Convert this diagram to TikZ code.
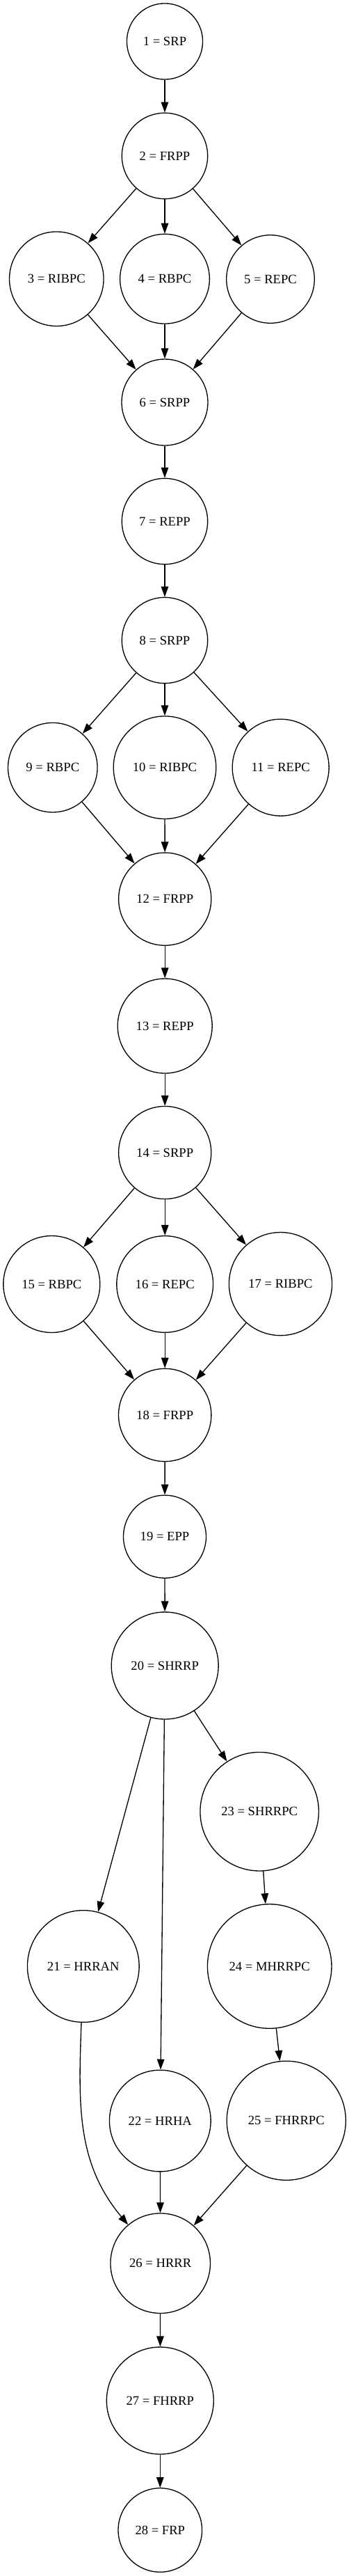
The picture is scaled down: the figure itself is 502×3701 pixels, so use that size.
\documentclass[tikz,border=0pt]{standalone}
\usepackage{fontspec}
\setmainfont{Liberation Serif}
\usetikzlibrary{arrows.meta}
\begin{document}
\begin{tikzpicture}[x=0.02cm, y=0.02cm, font=\fontsize{10.6}{12.7}\selectfont,
  phase/.style={circle, draw, line width=0.75pt, inner sep=0pt},
  edge/.style={line width=0.75pt, -{Triangle[length=0.3cm,width=0.21cm]}}]
\useasboundingbox (0,0) rectangle (502,-3701);
\foreach \i/\x/\y/\r/\l in {1/237/59.5/54.6/SRP, 2/237/224/61.7/FRPP, 3/81.3/400.7/67.8/RIBPC, 4/237/400.7/64.4/RBPC, 5/389/401/63.3/REPC, 6/237/578/62/SRPP, 7/237/749/61.7/REPP, 8/237/920/61.7/SRPP, 9/75.8/1102.7/64.3/RBPC, 10/237/1102.7/73.8/RIBPC, 11/403.7/1102.7/69.5/REPC, 12/237.2/1291.7/66.6/FRPP, 13/237.2/1474/68/REPP, 14/237.2/1656/66.6/SRPP} {\node[phase, minimum size=\r*0.04cm] (n\i) at (\x,-\y) {\i{} = \l};}
\foreach \i/\x/\y/\r/\l in {15/74.3/1845/69.5/RBPC, 16/237.2/1845/69.4/REPC, 17/403.5/1844.6/74.1/RIBPC, 18/237.2/2033/66.7/FRPP, 19/237/2207.7/59.5/EPP, 20/237.2/2393/77/SHRRP, 21/119.8/2825/80.4/HRRAN, 22/230.3/3047/72.9/HRHA, 23/373.2/2602.7/85.3/SHRRPC, 24/387.7/2825/89.3/MHRRPC, 25/411.8/3046.7/85.6/FHRRPC, 26/230.7/3251.7/71.8/HRRR, 27/230.3/3449/77/FHRRP, 28/230.3/3635/60.3/FRP} {\node[phase, minimum size=\r*0.04cm] (n\i) at (\x,-\y) {\i{} = \l};}
\foreach \a/\b in {1/2, 2/3, 2/4, 2/5, 3/6, 4/6, 5/6, 6/7, 7/8, 8/9, 8/10, 8/11, 9/12, 10/12, 11/12, 12/13, 13/14, 14/15, 14/16, 14/17, 15/18, 16/18, 17/18, 18/19, 19/20, 20/21, 20/22, 20/23, 23/24, 24/25, 22/26, 25/26, 26/27, 27/28} {\draw[edge] (n\a) -- (n\b);}
\draw[edge] (n21) to[out=-92, in=130] (n26);
\end{tikzpicture}
\end{document}
